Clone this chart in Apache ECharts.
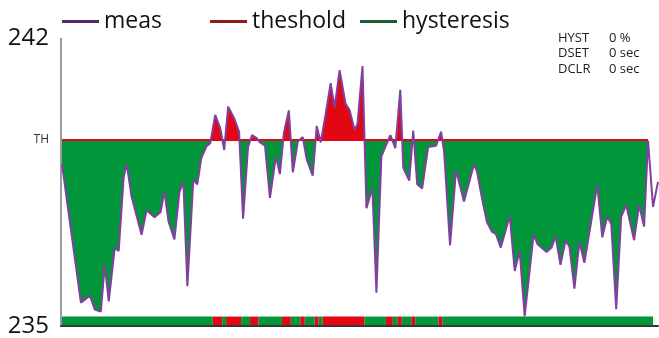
<!DOCTYPE html>
<html>
<head>
<meta charset="utf-8">
<script src="https://cdn.jsdelivr.net/npm/echarts@6/dist/echarts.min.js"></script>
<style>
  html, body { margin: 0; padding: 0; background: #fff; }
  #chart { width: 659px; height: 338px; }
</style>
</head>
<body>
<div id="chart"></div>
<script>
// sample time of each reading
const times = [1, 20, 29, 34, 40, 44, 48, 54, 58, 63, 66, 71, 81, 86, 94, 100, 104, 108, 114, 119,
  123, 127, 133, 137, 141, 146, 150, 155, 160, 164, 168, 174, 179, 183, 188, 192, 197, 200, 205, 210,
  216, 220, 224, 229, 233, 238, 243, 247, 253, 257, 261, 265, 271, 275, 280, 286, 290, 295, 298, 303,
  307, 313, 317, 322, 331, 336, 341, 344, 350, 354, 358, 363, 369, 377, 382, 385, 391, 397, 405, 415,
  418, 423, 428, 433, 437, 442, 451, 456, 461, 466, 475, 479, 488, 493, 497, 502, 507, 511, 516, 521,
  526, 534, 539, 544, 549, 553, 558, 563, 568, 576, 581, 586, 590, 595, 600];

// measured value
const meas = [238.94, 235.57, 235.74, 235.40, 235.35, 236.49, 235.60, 236.90, 236.83, 238.63,
  238.95, 238.14, 237.22, 237.82, 237.65, 237.77, 238.28, 237.55, 237.11, 238.26,
  238.51, 235.97, 238.56, 238.45, 239.09, 239.37, 239.45, 240.14, 239.82, 239.29,
  240.34, 240.06, 239.73, 237.61, 239.36, 239.65, 239.57, 239.47, 239.39, 238.12,
  239.13, 238.70, 239.70, 240.25, 238.74, 239.49, 239.60, 239.05, 238.66, 239.87,
  239.47, 240.02, 240.91, 240.32, 241.23, 240.41, 240.26, 239.78, 239.92, 241.33,
  237.87, 238.36, 235.81, 239.13, 239.65, 239.33, 240.75, 238.85, 238.54, 239.76,
  238.45, 238.35, 239.36, 239.39, 239.73, 239.25, 236.96, 238.80, 238.03, 238.93,
  238.77, 238.12, 237.54, 237.30, 237.24, 236.91, 237.68, 236.34, 236.83, 235.24,
  237.23, 236.99, 236.80, 236.91, 237.19, 236.49, 237.07, 236.93, 235.91, 237.05,
  236.54, 237.71, 238.45, 237.16, 237.66, 237.49, 235.41, 237.66, 237.95, 237.09,
  237.95, 237.42, 239.51, 237.90, 238.51];

const threshold = 239.53;
const fillEnd = 590;          // last time covered by threshold / hysteresis
const yTicks = [235, threshold, 242];
const infoLabels = ['HYST', 'DSET', 'DCLR'];
const infoValues = ['0 %', '0 sec', '0 sec'];

const RED = '#e30613';
const GREEN = '#009639';
const PURPLE = '#8040a0';
const FONT = '"Open Sans", sans-serif';

const measData = times.map((t, i) => [t, meas[i]]);
const fillData = measData.filter((d) => d[0] <= fillEnd);

// state strip under the plot: red while meas is above threshold,
// consecutive readings with the same state merged into one block
const stripData = [];
for (let i = 0; i < times.length - 1; i++) {
  const a = i === 0 ? times[0] : (times[i - 1] + times[i]) / 2;
  const b = i === times.length - 2 ? times[i] : (times[i] + times[i + 1]) / 2;
  const state = meas[i] > threshold ? 1 : 0;
  const last = stripData[stripData.length - 1];
  if (last && last[2] === state) last[1] = b;
  else stripData.push([a, b, state]);
}

function legendFor(name, color, left) {
  return {
    left: left,
    top: 10,
    padding: 0,
    icon: 'rect',
    itemWidth: 37,
    itemHeight: 3,
    selectedMode: false,
    textStyle: { fontSize: 23, color: '#111', fontFamily: FONT },
    data: [{ name: name, itemStyle: { color: color, borderWidth: 0, opacity: 1 } }],
  };
}

const chart = echarts.init(document.getElementById('chart'));

const option = {
  animation: false,
  legend: [
    legendFor('meas', '#4e2a6b', 62),
    legendFor('theshold', '#8c1c1c', 210),
    legendFor('hysteresis', '#1c5e30', 360),
  ],
  grid: { left: 61, right: 1, top: 38.5, bottom: 12 },
  xAxis: {
    type: 'value',
    min: 0,
    max: 600,
    axisLine: { show: true, onZero: false, lineStyle: { color: '#333', width: 2 } },
    axisTick: { show: false },
    axisLabel: { show: false },
    splitLine: { show: false },
  },
  yAxis: {
    type: 'value',
    min: 235,
    max: 242,
    axisLine: { show: true, onZero: false, lineStyle: { color: '#7a7a7a', width: 1.5 } },
    axisTick: { show: false },
    splitLine: { show: false },
    axisLabel: {
      customValues: yTicks,
      margin: 12,
      formatter: (v) => (Math.abs(v - threshold) < 1e-6 ? '{th|TH}' : '{big|' + v + '}'),
      rich: {
        big: { fontSize: 24, color: '#111', fontFamily: FONT },
        th: { fontSize: 12, color: '#333', fontFamily: FONT },
      },
    },
  },
  visualMap: {
    show: false,
    type: 'piecewise',
    seriesIndex: 0,
    dimension: 1,
    pieces: [
      { gt: 200, lte: threshold, color: GREEN },
      { gt: threshold, lte: 300, color: RED },
    ],
  },
  graphic: [
    {
      type: 'text', left: 558, top: 30,
      style: { text: infoLabels.join('\n'), fontSize: 13, fontFamily: FONT, fill: '#222', lineHeight: 15.6 },
    },
    {
      type: 'text', left: 609, top: 30,
      style: { text: infoValues.join('\n'), fontSize: 13, fontFamily: FONT, fill: '#222', lineHeight: 15.6 },
    },
  ],
  series: [
    {
      name: 'hysteresis',
      type: 'line',
      data: fillData,
      symbol: 'none',
      lineStyle: { width: 0 },
      areaStyle: { origin: threshold, opacity: 1 },
      z: 1,
    },
    {
      name: 'theshold',
      type: 'line',
      data: [[times[0], threshold], [fillEnd, threshold]],
      symbol: 'none',
      color: RED,
      lineStyle: { color: RED, width: 2 },
      z: 2,
    },
    {
      name: 'meas',
      type: 'line',
      data: measData,
      symbol: 'none',
      color: PURPLE,
      lineStyle: { color: PURPLE, width: 2 },
      z: 3,
    },
    {
      type: 'custom',
      coordinateSystem: 'cartesian2d',
      data: stripData,
      encode: { x: [0, 1] },
      z: 2,
      renderItem: (params, api) => {
        const p0 = api.coord([api.value(0), 235.02]);
        const p1 = api.coord([api.value(1), 235.23]);
        return {
          type: 'rect',
          shape: { x: p0[0], y: p1[1], width: p1[0] - p0[0], height: p0[1] - p1[1] },
          style: { fill: api.value(2) ? RED : GREEN },
        };
      },
    },
  ],
};

chart.setOption(option);
</script>
</body>
</html>
